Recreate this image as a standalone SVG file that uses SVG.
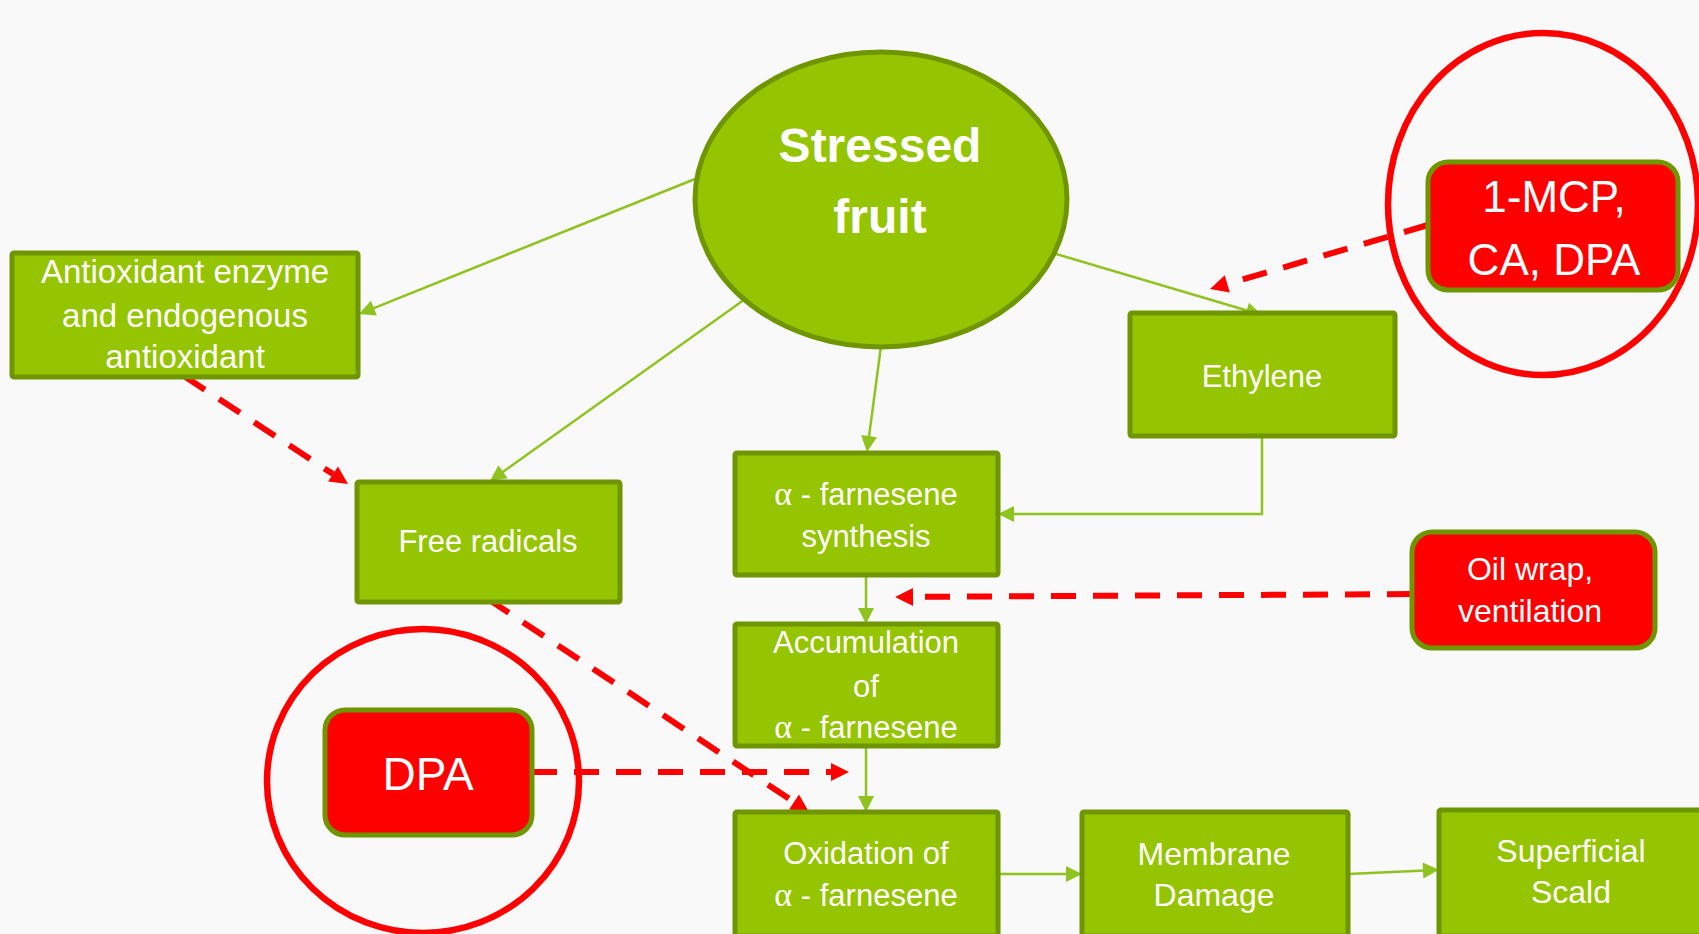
<svg xmlns="http://www.w3.org/2000/svg" width="1699" height="934" viewBox="0 0 1699 934">
<style>
.box{fill:#95c400;stroke:#6f9500;stroke-width:5}
.rbox{fill:#ff0000;stroke:#6f9500;stroke-width:5}
.ring{fill:none;stroke:#ff0000;stroke-width:6.5}
.t{font-family:"Liberation Sans",Arial,sans-serif;font-size:31px;fill:#ffffff;text-anchor:middle}
.a{font-family:"Liberation Serif","Times New Roman",serif;font-size:34px}
.g{fill:none;stroke:#8fc31f;stroke-width:2.5}
.r{fill:none;stroke:#ff0000;stroke-width:6;stroke-dasharray:25 17}
</style>
<defs>
<marker id="ga" markerUnits="userSpaceOnUse" markerWidth="16" markerHeight="16" refX="2" refY="8" orient="auto" overflow="visible"><path d="M0,0 L16,8 L0,16 z" fill="#8fc31f"/></marker>
<marker id="ra" markerUnits="userSpaceOnUse" markerWidth="18" markerHeight="18" refX="0" refY="9" orient="auto" overflow="visible"><path d="M0,0 L18,9 L0,18 z" fill="#ff0000"/></marker>
</defs>
<rect width="1699" height="934" fill="#f9f9f9"/>

<g id="connectors">
<line class="g" x1="695" y1="179" x2="372" y2="308.8" marker-end="url(#ga)"/>
<line class="g" x1="748" y1="297" x2="501.4" y2="472.9" marker-end="url(#ga)"/>
<line class="g" x1="881" y1="346" x2="868.8" y2="438.1" marker-end="url(#ga)"/>
<line class="g" x1="1046" y1="251" x2="1248.6" y2="311" marker-end="url(#ga)"/>
<polyline class="g" points="1262,436 1262,514 1012,514" marker-end="url(#ga)"/>
<line class="g" x1="866" y1="575" x2="866" y2="610" marker-end="url(#ga)"/>
<line class="g" x1="866" y1="746" x2="866" y2="798" marker-end="url(#ga)"/>
<line class="g" x1="998" y1="874" x2="1068" y2="874" marker-end="url(#ga)"/>
<line class="g" x1="1348" y1="874" x2="1425" y2="870.5" marker-end="url(#ga)"/>
<line class="r" x1="1428" y1="225" x2="1227.3" y2="283.9" marker-end="url(#ra)"/>
<line class="r" x1="1412" y1="594" x2="913" y2="596.9" marker-end="url(#ra)"/>
<line class="r" x1="532" y1="772" x2="831" y2="772" marker-end="url(#ra)"/>
<line class="r" x1="488" y1="599" x2="794" y2="802" marker-end="url(#ra)"/>
<line class="r" x1="184" y1="376" x2="333" y2="474.1" marker-end="url(#ra)"/>
</g>

<g id="stressed-fruit">
<ellipse cx="881" cy="199.5" rx="186" ry="147.5" fill="#95c400" stroke="#6f9500" stroke-width="5"/>
<text class="t" x="880" y="162" style="font-size:48px;font-weight:bold">Stressed</text>
<text class="t" x="880" y="233" style="font-size:48px;font-weight:bold">fruit</text>
</g>

<g id="antioxidant">
<rect class="box" x="12" y="253" width="346" height="124" rx="2"/>
<text class="t" x="185" y="283" style="font-size:33px">Antioxidant enzyme</text>
<text class="t" x="185" y="327" style="font-size:33px">and endogenous</text>
<text class="t" x="185" y="368" style="font-size:33px">antioxidant</text>
</g>

<g id="free-radicals">
<rect class="box" x="357" y="482" width="263" height="120" rx="2"/>
<text class="t" x="488" y="552">Free radicals</text>
</g>

<g id="ethylene">
<rect class="box" x="1130" y="313" width="265" height="123" rx="2"/>
<text class="t" x="1262" y="387">Ethylene</text>
</g>

<g id="farnesene-synthesis">
<rect class="box" x="735" y="453" width="263" height="122" rx="2"/>
<text class="t" x="866" y="505"><tspan class="a">α</tspan> - farnesene</text>
<text class="t" x="866" y="547">synthesis</text>
</g>

<g id="accumulation">
<rect class="box" x="735" y="624" width="263" height="122" rx="2"/>
<text class="t" x="866" y="653">Accumulation</text>
<text class="t" x="866" y="697">of</text>
<text class="t" x="866" y="738"><tspan class="a">α</tspan> - farnesene</text>
</g>

<g id="oxidation">
<rect class="box" x="735" y="812" width="263" height="124" rx="2"/>
<text class="t" x="866" y="864">Oxidation of</text>
<text class="t" x="866" y="906"><tspan class="a">α</tspan> - farnesene</text>
</g>

<g id="membrane">
<rect class="box" x="1082" y="812" width="266" height="124" rx="2"/>
<text class="t" x="1214" y="865" style="font-size:32px">Membrane</text>
<text class="t" x="1214" y="906" style="font-size:32px">Damage</text>
</g>

<g id="scald">
<rect class="box" x="1439" y="810" width="266" height="126" rx="2"/>
<text class="t" x="1571" y="862" style="font-size:32px">Superficial</text>
<text class="t" x="1571" y="903" style="font-size:32px">Scald</text>
</g>

<g id="mcp">
<ellipse class="ring" cx="1543" cy="204" rx="155" ry="171"/>
<rect class="rbox" x="1428" y="162" width="250" height="128" rx="20"/>
<text class="t" x="1554" y="212" style="font-size:44px">1-MCP,</text>
<text class="t" x="1554" y="275" style="font-size:44px">CA, DPA</text>
</g>

<g id="oil-wrap">
<rect class="rbox" x="1412" y="532" width="243" height="116" rx="20"/>
<text class="t" x="1530" y="580" style="font-size:32px">Oil wrap,</text>
<text class="t" x="1530" y="622" style="font-size:32px">ventilation</text>
</g>

<g id="dpa">
<ellipse class="ring" cx="423" cy="781" rx="156" ry="152"/>
<rect class="rbox" x="325" y="710" width="207" height="125" rx="20"/>
<text class="t" x="428" y="790" style="font-size:46px">DPA</text>
</g>
</svg>
